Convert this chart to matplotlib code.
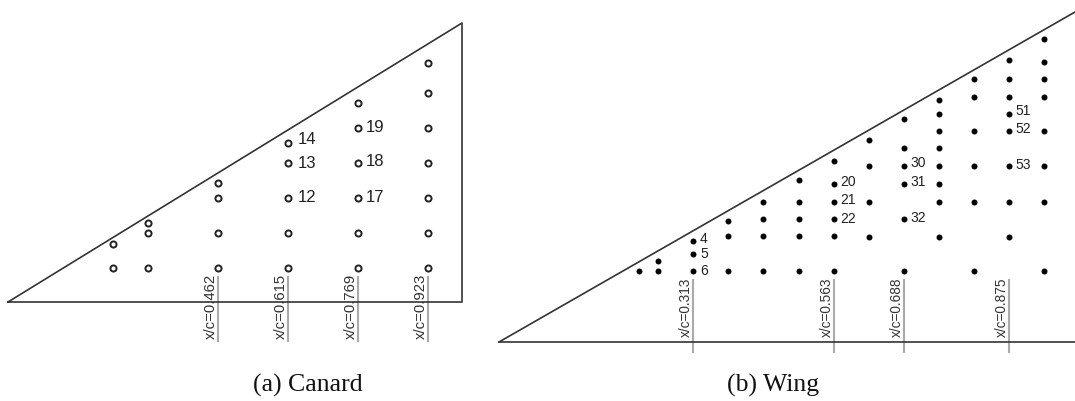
import matplotlib
matplotlib.use('Agg')
import matplotlib.pyplot as plt

# everything, in image units (x right, y down)
canard_outline_x = [8, 462, 462, 8]
canard_outline_y = [302, 23, 302, 302]
wing_le_x = [499, 1075]
wing_le_y = [342, 12]
wing_root_x = [499, 1075]
wing_root_y = [342, 342]

canard_cols = {
    113: [244, 268],
    148: [223, 233, 268],
    218: [183, 198, 233, 268],
    288: [143, 163, 198, 233, 268],
    358: [103, 128, 163, 198, 233, 268],
    428: [63, 93, 128, 163, 198, 233, 268],
}
wing_cols = {
    639: [271],
    658: [261, 271],
    693: [241, 254, 271],
    728: [221, 236, 271],
    763: [202, 219, 236, 271],
    799: [180, 202, 219, 236, 271],
    834: [161, 184, 202, 219, 236, 271],
    869: [140, 166, 202, 237],
    904: [119, 148, 166, 184, 219, 271],
    939: [100, 114, 131, 148, 166, 184, 202, 237],
    974: [79, 97, 131, 166, 202, 271],
    1009: [60, 79, 97, 114, 131, 166, 202, 237],
    1044: [39, 62, 79, 97, 131, 166, 202, 271],
}

canard_labels = [('14', 298, 139), ('13', 298, 163), ('12', 298, 198),
                 ('19', 366, 127), ('18', 366, 161), ('17', 366, 197)]
wing_labels = [('4', 700, 239), ('5', 700, 254), ('6', 700, 271),
               ('20', 840, 182), ('21', 840, 200), ('22', 840, 219),
               ('30', 910, 163), ('31', 910, 182), ('32', 910, 218),
               ('51', 1015, 111), ('52', 1015, 129), ('53', 1015, 165)]

canard_stations = ['0.462', '0.615', '0.769', '0.923']
canard_station_x = [218, 288, 358, 428]
wing_stations = ['0.313', '0.563', '0.688', '0.875']
wing_station_x = [693, 834, 904, 1009]

fig = plt.figure(figsize=(10.75, 4.01), dpi=100)
ax = fig.add_axes([0, 0, 1, 1])
ax.set_xlim(0, 1075)
ax.set_ylim(401, 0)
ax.axis('off')

line_col = '#333333'
ax.plot(canard_outline_x, canard_outline_y, color=line_col, lw=1.2)
ax.plot(wing_le_x, wing_le_y, color=line_col, lw=1.2)
ax.plot(wing_root_x, wing_root_y, color=line_col, lw=1.2)

for x in canard_station_x:
    ax.plot([x, x], [277, 341], color='#aaaaaa', lw=1.5, zorder=1)
for x in wing_station_x:
    ax.plot([x, x], [280, 352], color='#aaaaaa', lw=1.5, zorder=1)

for x, ys in canard_cols.items():
    ax.plot([x] * len(ys), ys, 'o', ms=4.4, mfc='white', mec='#222222', mew=1.4)
for x, ys in wing_cols.items():
    ax.plot([x] * len(ys), ys, 'o', ms=4.3, color='black', mew=0)

for s, x, y in canard_labels:
    ax.text(x, y, s, fontsize=12, family='Liberation Sans', color='#222222', ha='left', va='center')
for s, x, y in wing_labels:
    ax.text(x, y, s, fontsize=10, family='Liberation Sans', color='#222222', ha='left', va='center')

for s, x in zip(canard_stations, canard_station_x):
    ax.text(x, 339, 'x/c=' + s, rotation=90, fontsize=10.7, family='Liberation Sans',
            color='#333333', ha='right', va='bottom')
for s, x in zip(wing_stations, wing_station_x):
    ax.text(x, 337, 'x/c=' + s, rotation=90, fontsize=9.8, family='Liberation Sans',
            color='#333333', ha='right', va='bottom')

ax.text(308, 385, '(a) Canard', fontsize=18.5, family='Liberation Serif', color='#111111',
        ha='center', va='center')
ax.text(773, 385, '(b) Wing', fontsize=18.5, family='Liberation Serif', color='#111111',
        ha='center', va='center')

fig.savefig('out.png', dpi=100)
